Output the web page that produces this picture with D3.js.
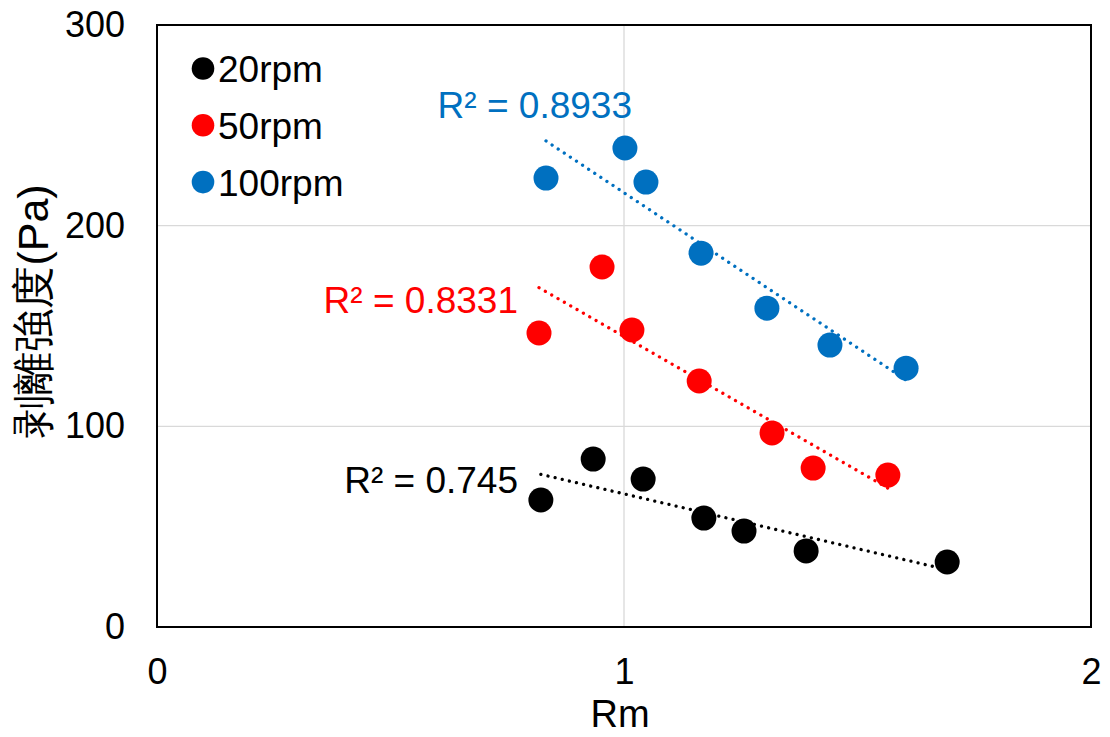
<!DOCTYPE html>
<html>
<head>
<meta charset="utf-8">
<script src="https://cdn.jsdelivr.net/npm/d3@7"></script>
<style>
  body { margin: 0; background: #fff; }
  text { font-family: "Liberation Sans", Arial, sans-serif; }
</style>
</head>
<body>
<div id="chart"></div>
<script>
// series data
const seriesNames = ["20rpm", "50rpm", "100rpm"];
const seriesColors = ["#000000", "#ff0000", "#0070c0"];
const rm20 = [0.822, 0.934, 1.041, 1.171, 1.257, 1.390, 1.692];
const str20 = [63.3, 83.7, 73.7, 54.3, 47.8, 37.9, 32.4];
const rm50 = [0.818, 0.953, 1.017, 1.161, 1.317, 1.405, 1.565];
const str50 = [146.5, 179.4, 148.0, 122.6, 96.7, 79.2, 75.7];
const rm100 = [0.833, 1.002, 1.047, 1.165, 1.306, 1.441, 1.604];
const str100 = [223.7, 238.7, 221.7, 186.3, 158.9, 140.5, 129.0];
const r2Labels = ["R² = 0.745", "R² = 0.8331", "R² = 0.8933"];
const xTicks = [0, 1, 2];
const yTicks = [0, 100, 200, 300];

const width = 1110, height = 737;
const margin = {left: 157, right: 19, top: 25, bottom: 110};

const svg = d3.select("#chart").append("svg")
  .attr("width", width)
  .attr("height", height);

const x = d3.scaleLinear().domain([0, 2]).range([margin.left, width - margin.right]);
const y = d3.scaleLinear().domain([0, 300]).range([height - margin.bottom, margin.top]);

// gridlines
svg.append("g").selectAll("line")
  .data(xTicks.slice(1, -1)).join("line")
  .attr("x1", d => x(d)).attr("x2", d => x(d))
  .attr("y1", y(0)).attr("y2", y(300))
  .attr("stroke", "#d9d9d9").attr("stroke-width", 1.3);
svg.append("g").selectAll("line")
  .data(yTicks.slice(1, -1)).join("line")
  .attr("x1", x(0)).attr("x2", x(2))
  .attr("y1", d => y(d)).attr("y2", d => y(d))
  .attr("stroke", "#d9d9d9").attr("stroke-width", 1.3);

// axes (labels only, frame drawn separately)
const xAxis = svg.append("g")
  .attr("transform", `translate(0,${y(0)})`)
  .call(d3.axisBottom(x).tickValues(xTicks).tickSize(0).tickPadding(31).tickFormat(d3.format("d")));
xAxis.select(".domain").remove();
xAxis.selectAll("text").attr("font-size", 36).attr("fill", "#000")
  .attr("font-family", "Liberation Sans, Arial, sans-serif");

const yAxis = svg.append("g")
  .attr("transform", `translate(${x(0)},0)`)
  .call(d3.axisLeft(y).tickValues(yTicks).tickSize(0).tickPadding(32).tickFormat(d3.format("d")));
yAxis.select(".domain").remove();
yAxis.selectAll("text").attr("font-size", 36).attr("fill", "#000")
  .attr("font-family", "Liberation Sans, Arial, sans-serif");

// plot frame
svg.append("rect")
  .attr("x", x(0)).attr("y", y(300))
  .attr("width", x(2) - x(0)).attr("height", y(0) - y(300))
  .attr("fill", "none").attr("stroke", "#000").attr("stroke-width", 2);

// axis titles
svg.append("text")
  .attr("x", 620).attr("y", 727)
  .attr("text-anchor", "middle").attr("font-size", 38)
  .text("Rm");
svg.append("text")
  .attr("transform", "translate(48,311) rotate(-90)")
  .attr("text-anchor", "middle").attr("font-size", 43)
  .attr("font-family", "Noto Sans CJK JP, sans-serif")
  .text("剥離強度(Pa)");

const series = [
  {xs: rm20, ys: str20},
  {xs: rm50, ys: str50},
  {xs: rm100, ys: str100}
];

// least squares line
function linfit(xs, ys) {
  const mx = d3.mean(xs), my = d3.mean(ys);
  let sxy = 0, sxx = 0;
  xs.forEach((v, i) => { sxy += (v - mx) * (ys[i] - my); sxx += (v - mx) ** 2; });
  const b = sxy / sxx;
  return {a: my - b * mx, b};
}

// linear trendlines over each series' x range
const line = d3.line().x(d => x(d[0])).y(d => y(d[1]));
series.forEach((s, i) => {
  const f = linfit(s.xs, s.ys);
  const pts = d3.extent(s.xs).map(v => [v, f.a + f.b * v]);
  svg.append("path").datum(pts)
    .attr("d", line).attr("fill", "none")
    .attr("stroke", seriesColors[i]).attr("stroke-width", 3.3)
    .attr("stroke-linecap", "round")
    .attr("stroke-dasharray", "0.01 7.3");
});

// markers
series.forEach((s, i) => {
  svg.append("g").selectAll("circle")
    .data(s.xs.map((v, k) => [v, s.ys[k]])).join("circle")
    .attr("cx", d => x(d[0])).attr("cy", d => y(d[1]))
    .attr("r", 12.5).attr("fill", seriesColors[i]);
});

// R² labels
const r2Pos = [[518, 493], [518, 313], [632, 118]];
svg.append("g").selectAll("text")
  .data(r2Labels).join("text")
  .attr("x", (d, i) => r2Pos[i][0]).attr("y", (d, i) => r2Pos[i][1])
  .attr("text-anchor", "end").attr("font-size", 37)
  .attr("fill", (d, i) => seriesColors[i])
  .text(d => d);

// legend
const legend = svg.append("g").selectAll("g")
  .data(seriesNames).join("g")
  .attr("transform", (d, i) => `translate(203,${68.5 + i * 56.8})`);
legend.append("circle").attr("r", 11.3).attr("fill", (d, i) => seriesColors[i]);
legend.append("text").attr("x", 15).attr("y", 13.5)
  .attr("font-size", 37).text(d => d);
</script>
</body>
</html>
